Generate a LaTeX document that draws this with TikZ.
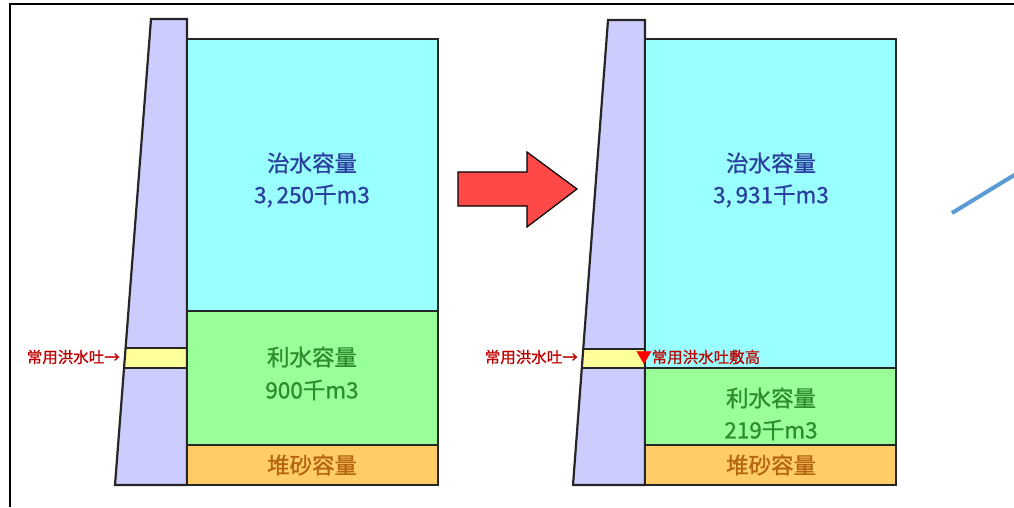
\documentclass[tikz,border=0pt]{standalone}
\usepackage{fontspec}
\setmainfont{Noto Sans CJK JP}
\newfontfamily\jp[FakeBold=0.9]{Noto Sans CJK JP}
\begin{document}
\begin{tikzpicture}[x=1pt,y=-1pt,
  outline/.style={draw=black!85,line width=2.2pt,line join=miter},
  bigtxt/.style={font=\jp\fontsize{22.5}{22}\selectfont,inner sep=0pt},
  redtxt/.style={font=\jp\fontsize{15.5}{16}\selectfont,text=red!75!black,inner sep=0pt},
]
\definecolor{cyanfill}{HTML}{99FFFF}
\definecolor{greenfill}{HTML}{99FF99}
\definecolor{orangefill}{HTML}{FFCC66}
\definecolor{damfill}{HTML}{CCCCFF}
\definecolor{bandfill}{HTML}{FFFF99}
\definecolor{bluetxt}{HTML}{2B3F9E}
\definecolor{greentxt}{HTML}{2E8B2E}
\definecolor{browntxt}{HTML}{B5650F}
\definecolor{arrowred}{HTML}{FF4848}
\definecolor{lineblue}{HTML}{5B9BD5}
\useasboundingbox (0,0) rectangle (1014,507);
\fill[white] (0,0) rectangle (1014,507);
% frame
\draw[line width=1.8pt,black] (10,507) -- (10,4) -- (1014,4);

% ===== left diagram =====
\fill[damfill] (151,19) -- (187,19) -- (187,485) -- (115,485) -- cycle;
\begin{scope}
  \clip (151,19) -- (187,19) -- (187,485) -- (115,485) -- cycle;
  \fill[bandfill] (100,348) rectangle (187,368);
\end{scope}
\draw[outline] (151,19) -- (187,19) -- (187,485) -- (115,485) -- cycle;
\draw[outline] (125.6,348) -- (187,348);
\draw[outline] (124.1,368) -- (187,368);
\fill[cyanfill] (187,39) rectangle (438,311);
\fill[greenfill] (187,311) rectangle (438,445);
\fill[orangefill] (187,445) rectangle (438,485);
\draw[outline] (187,39) rectangle (438,485);
\draw[outline] (187,311) -- (438,311);
\draw[outline] (187,445) -- (438,445);
\node[bigtxt,text=bluetxt] (fc1) at (312,163) {治水容量};
\node[bigtxt,text=bluetxt] (fv1) at (312,196) {3,\,250千m3};
\node[bigtxt,text=greentxt] (wc1) at (312,357) {利水容量};
\node[bigtxt,text=greentxt] (wv1) at (312,390) {900千m3};
\node[bigtxt,text=browntxt] (sc1) at (312,465) {堆砂容量};
\node[redtxt,anchor=east] (sp1) at (120,357) {常用洪水吐→};

% ===== arrow =====
\draw[fill=arrowred,draw=black,line width=1.2pt,line join=miter]
  (458,172) -- (527,172) -- (527,152) -- (577,189) -- (527,227) -- (527,206) -- (458,206) -- cycle;

% ===== right diagram =====
\fill[damfill] (608,20) -- (645,20) -- (645,485) -- (573,485) -- cycle;
\begin{scope}
  \clip (608,20) -- (645,20) -- (645,485) -- (573,485) -- cycle;
  \fill[bandfill] (560,349) rectangle (645,368);
\end{scope}
\draw[outline] (608,20) -- (645,20) -- (645,485) -- (573,485) -- cycle;
\draw[outline] (583.2,349) -- (645,349);
\draw[outline] (581.8,368) -- (645,368);
\fill[cyanfill] (645,39) rectangle (896,368);
\fill[greenfill] (645,368) rectangle (896,445);
\fill[orangefill] (645,445) rectangle (896,485);
\draw[outline] (645,39) rectangle (896,485);
\draw[outline] (645,368) -- (896,368);
\draw[outline] (645,445) -- (896,445);
\node[bigtxt,text=bluetxt] (fc2) at (771,163) {治水容量};
\node[bigtxt,text=bluetxt] (fv2) at (771,196) {3,\,931千m3};
\node[bigtxt,text=greentxt] (wc2) at (771,398) {利水容量};
\node[bigtxt,text=greentxt] (wv2) at (771,430) {219千m3};
\node[bigtxt,text=browntxt] (sc2) at (771,465) {堆砂容量};
\node[redtxt,anchor=east] (sp2) at (578,357) {常用洪水吐→};
\node[redtxt,anchor=west] (sh2) at (636,357) {\textcolor{red}{▼}常用洪水吐敷高};

% ===== blue line =====
\draw[lineblue,line width=4pt] (952,213) -- (1016,174);
\end{tikzpicture}
\end{document}
